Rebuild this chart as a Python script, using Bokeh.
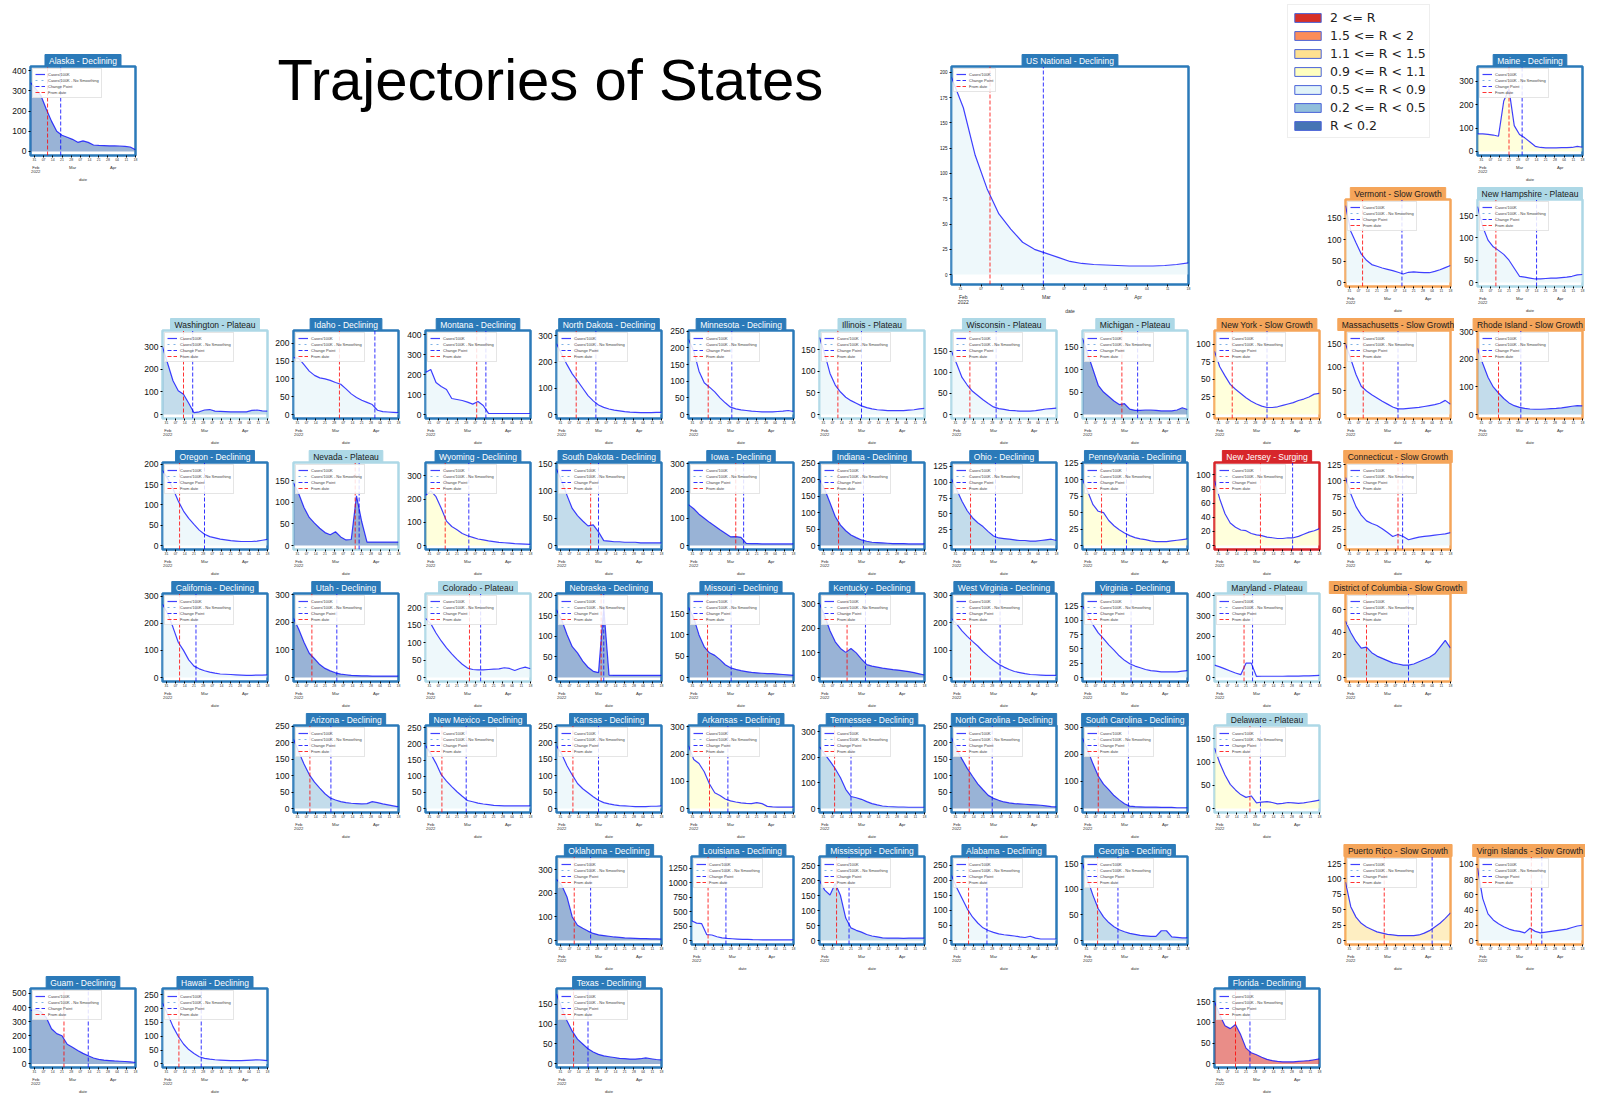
import pandas as pd
from bokeh.embed import file_html
from bokeh.layouts import column, row
from bokeh.models import (FixedTicker, Label, Legend, LegendItem, LinearAxis, Range1d,
                          SingleIntervalTicker, Spacer)
from bokeh.plotting import figure
from bokeh.resources import INLINE

# ------------------------------------------------------------------ data
START = pd.Timestamp("2022-01-28")
END = pd.Timestamp("2022-04-18")
SAMPLE_DATES = pd.date_range(START, END, freq="4D")          # 21 sample dates
TICK_DATES = pd.date_range("2022-01-31", END, freq="7D")     # weekly ticks
MONTH_DATES = pd.to_datetime(["2022-02-01", "2022-03-01", "2022-04-01"])
MONTH_LABELS = ["Feb\n2022", "Mar", "Apr"]

R_LABELS = ["2 <= R", "1.5 <= R < 2", "1.1 <= R < 1.5", "0.9 <= R < 1.1",
            "0.5 <= R < 0.9", "0.2 <= R < 0.5", "R < 0.2"]
R_COLORS = ["#d73027", "#fc8d59", "#fee090", "#ffffbf", "#e0f3f8", "#91bfdb", "#4575b4"]

# cases per 100K (smoothed), read at the sample dates
us_national = [195, 165, 118, 85, 60, 45, 32, 25, 21, 17, 13, 11, 10, 9.5, 9, 8.5, 8.5, 8.5, 9, 10, 11.5]
alaska = [340, 310, 275, 210, 150, 100, 80, 70, 60, 45, 52, 45, 32, 30, 29, 28, 28, 27, 25, 22, 8]
maine = [75, 75, 73, 70, 65, 215, 265, 110, 72, 58, 40, 22, 17, 15, 15, 15, 16, 16, 17, 22, 18]
vermont = [180, 120, 93, 67, 52, 42, 38, 34, 31, 28, 24, 20, 24, 25, 24, 23, 23, 26, 30, 35, 40]
new_hampshire = [170, 125, 95, 80, 72, 63, 50, 32, 14, 12, 10, 8, 8, 9, 10, 10, 11, 12, 14, 17, 18]
washington = [300, 225, 150, 105, 90, 50, 8, 12, 20, 22, 15, 14, 13, 12, 12, 12, 12, 18, 20, 16, 15]
idaho = [160, 158, 140, 122, 110, 103, 100, 96, 90, 85, 72, 58, 48, 40, 34, 28, 12, 8, 7, 6, 5]
montana = [210, 225, 160, 140, 125, 80, 75, 70, 62, 52, 65, 45, 6, 5, 5, 5, 5, 5, 5, 5, 5]
north_dakota = [270, 230, 190, 155, 128, 100, 72, 52, 36, 27, 21, 17, 14, 11, 9, 8, 7, 7, 7, 8, 8]
minnesota = [225, 190, 130, 95, 82, 68, 50, 35, 22, 17, 14, 12, 10, 9, 8, 8, 8, 9, 10, 12, 9]
illinois = [178, 140, 95, 68, 52, 40, 32, 26, 20, 16, 13, 11, 10, 9, 9, 9, 9, 10, 11, 13, 14]
wisconsin = [150, 120, 88, 70, 55, 45, 35, 26, 18, 14, 12, 10, 9, 8, 8, 8, 9, 11, 13, 14, 15]
michigan = [170, 135, 100, 65, 50, 40, 30, 22, 24, 12, 9, 9, 10, 10, 9, 8, 8, 8, 10, 15, 11]
new_york = [90, 68, 55, 43, 36, 30, 24, 19, 15, 12, 10, 10, 11, 13, 15, 17, 20, 22, 25, 29, 30]
massachusetts = [150, 118, 85, 60, 50, 42, 35, 28, 22, 16, 12, 12, 13, 14, 15, 17, 19, 21, 24, 30, 22]
rhode_island = [240, 185, 135, 100, 78, 58, 42, 32, 26, 22, 20, 19, 19, 20, 21, 22, 24, 27, 30, 32, 31]
oregon = [185, 165, 140, 110, 85, 67, 52, 38, 28, 22, 19, 16, 14, 12, 11, 10, 10, 10, 11, 13, 15]
nevada = [145, 120, 88, 65, 52, 40, 30, 25, 32, 20, 13, 14, 115, 55, 8, 8, 8, 8, 8, 8, 8]
wyoming = [215, 235, 210, 160, 105, 82, 68, 52, 42, 35, 28, 24, 20, 17, 14, 12, 10, 8, 7, 6, 5]
south_dakota = [140, 118, 92, 68, 55, 45, 36, 38, 25, 9, 8, 7, 7, 6, 6, 6, 5, 5, 5, 5, 5]
iowa = [150, 135, 115, 100, 85, 72, 58, 45, 32, 33, 30, 8, 7, 7, 6, 6, 6, 6, 6, 6, 6]
indiana = [200, 170, 130, 88, 62, 45, 32, 24, 17, 13, 10, 9, 8, 7, 6, 6, 6, 5, 5, 5, 5]
ohio = [105, 88, 70, 55, 44, 36, 30, 22, 15, 12, 11, 10, 9, 8, 8, 7, 7, 8, 9, 10, 8]
pennsylvania = [100, 82, 62, 52, 50, 38, 30, 24, 19, 15, 12, 10, 9, 7, 6, 6, 6, 7, 8, 9, 10]
new_jersey = [92, 66, 45, 32, 26, 22, 21, 17, 15, 14, 12, 11, 10, 10, 11, 11, 13, 16, 19, 21, 24]
connecticut = [105, 80, 60, 47, 38, 34, 31, 26, 20, 14, 17, 14, 9, 11, 13, 14, 15, 16, 17, 18, 20]
california = [270, 235, 185, 130, 100, 65, 42, 32, 25, 20, 16, 13, 12, 11, 10, 9, 8, 8, 9, 9, 10]
utah = [215, 175, 128, 88, 68, 47, 33, 24, 17, 12, 10, 8, 7, 6, 6, 5, 5, 5, 5, 5, 5]
colorado = [170, 155, 128, 105, 85, 68, 52, 38, 27, 23, 22, 22, 23, 24, 25, 28, 26, 20, 26, 30, 25]
nebraska = [165, 140, 105, 75, 60, 40, 25, 15, 12, 170, 6, 5, 5, 5, 5, 5, 5, 5, 5, 5, 5]
missouri = [165, 140, 100, 72, 58, 52, 42, 30, 23, 19, 16, 14, 12, 11, 10, 9, 9, 8, 7, 6, 5]
kentucky = [300, 250, 190, 145, 118, 102, 118, 100, 75, 52, 46, 42, 38, 35, 32, 30, 27, 24, 20, 15, 10]
west_virginia = [215, 195, 170, 150, 132, 115, 95, 78, 62, 48, 38, 29, 22, 18, 14, 11, 10, 9, 8, 8, 8]
virginia = [125, 110, 92, 78, 68, 57, 48, 38, 30, 24, 20, 17, 14, 12, 11, 10, 10, 10, 10, 11, 12]
maryland = [60, 52, 42, 32, 22, 14, 70, 70, 5, 6, 6, 6, 6, 6, 7, 7, 7, 8, 8, 9, 10]
district_of_columbia = [50, 40, 32, 26, 27, 22, 19, 17, 15, 13, 12, 11, 11, 12, 14, 16, 18, 21, 27, 33, 26]
arizona = [210, 172, 135, 103, 80, 62, 45, 32, 26, 21, 18, 16, 15, 14, 15, 21, 18, 14, 11, 8, 5]
new_mexico = [195, 170, 140, 105, 85, 68, 52, 38, 25, 21, 17, 14, 12, 10, 9, 8, 8, 8, 8, 8, 8]
kansas = [190, 165, 130, 102, 76, 60, 48, 36, 25, 18, 14, 11, 9, 8, 7, 6, 6, 6, 7, 7, 8]
arkansas = [230, 180, 165, 135, 90, 58, 48, 35, 28, 24, 21, 19, 18, 22, 18, 8, 6, 5, 5, 5, 5]
tennessee = [240, 212, 185, 155, 120, 75, 47, 42, 36, 27, 19, 14, 10, 8, 7, 6, 6, 5, 5, 5, 5]
north_carolina = [215, 180, 150, 122, 98, 75, 57, 40, 31, 25, 20, 17, 15, 14, 13, 12, 11, 10, 8, 6, 5]
south_carolina = [260, 215, 165, 120, 90, 70, 48, 32, 18, 9, 7, 6, 5, 5, 5, 4, 4, 4, 3, 3, 3]
delaware = [130, 98, 72, 52, 40, 30, 24, 27, 12, 14, 15, 13, 10, 11, 13, 12, 11, 12, 14, 16, 18]
oklahoma = [260, 235, 185, 100, 65, 52, 40, 30, 24, 21, 18, 15, 13, 11, 10, 9, 8, 8, 7, 7, 6]
louisiana = [340, 300, 290, 100, 95, 65, 45, 35, 30, 25, 20, 18, 15, 13, 12, 11, 10, 10, 10, 10, 10]
mississippi = [200, 168, 152, 190, 150, 75, 42, 34, 28, 20, 15, 12, 9, 8, 8, 8, 7, 8, 8, 8, 8]
alabama = [215, 175, 140, 105, 78, 58, 42, 33, 27, 22, 19, 17, 15, 12, 10, 14, 8, 5, 5, 5, 5]
georgia = [150, 118, 88, 62, 46, 35, 27, 21, 17, 14, 12, 10, 9, 8, 8, 19, 19, 7, 6, 5, 5]
puerto_rico = [95, 55, 38, 28, 22, 18, 14, 12, 10, 9, 8, 8, 8, 8, 9, 12, 16, 22, 28, 36, 45]
virgin_islands = [95, 55, 35, 27, 22, 18, 15, 13, 12, 10, 16, 12, 10, 11, 12, 13, 14, 15, 17, 19, 20]
guam = [380, 385, 370, 330, 250, 215, 200, 140, 118, 95, 75, 58, 42, 32, 27, 24, 21, 19, 17, 14, 10]
hawaii = [220, 180, 135, 100, 72, 52, 38, 26, 20, 17, 15, 14, 13, 12, 12, 12, 13, 14, 15, 14, 12]
texas = [175, 140, 108, 82, 62, 50, 38, 30, 24, 20, 18, 16, 14, 13, 12, 12, 13, 15, 13, 11, 10]
florida = [150, 118, 92, 85, 95, 70, 38, 27, 22, 16, 11, 8, 6, 5, 5, 5, 6, 7, 8, 10, 12]

SERIES = {
    "US National": us_national, "Alaska": alaska, "Maine": maine, "Vermont": vermont,
    "New Hampshire": new_hampshire, "Washington": washington, "Idaho": idaho,
    "Montana": montana, "North Dakota": north_dakota, "Minnesota": minnesota,
    "Illinois": illinois, "Wisconsin": wisconsin, "Michigan": michigan,
    "New York": new_york, "Massachusetts": massachusetts, "Rhode Island": rhode_island,
    "Oregon": oregon, "Nevada": nevada, "Wyoming": wyoming, "South Dakota": south_dakota,
    "Iowa": iowa, "Indiana": indiana, "Ohio": ohio, "Pennsylvania": pennsylvania,
    "New Jersey": new_jersey, "Connecticut": connecticut, "California": california,
    "Utah": utah, "Colorado": colorado, "Nebraska": nebraska, "Missouri": missouri,
    "Kentucky": kentucky, "West Virginia": west_virginia, "Virginia": virginia,
    "Maryland": maryland, "District of Columbia": district_of_columbia,
    "Arizona": arizona, "New Mexico": new_mexico, "Kansas": kansas, "Arkansas": arkansas,
    "Tennessee": tennessee, "North Carolina": north_carolina,
    "South Carolina": south_carolina, "Delaware": delaware, "Oklahoma": oklahoma,
    "Louisiana": louisiana, "Mississippi": mississippi, "Alabama": alabama,
    "Georgia": georgia, "Puerto Rico": puerto_rico, "Virgin Islands": virgin_islands,
    "Guam": guam, "Hawaii": hawaii, "Texas": texas, "Florida": florida,
}

PLATEAU = ["New Hampshire", "Washington", "Illinois", "Wisconsin", "Michigan", "Nevada",
           "Colorado", "Maryland", "Delaware"]
SLOW_GROWTH = ["Vermont", "New York", "Massachusetts", "Rhode Island", "Connecticut",
               "District of Columbia", "Puerto Rico", "Virgin Islands"]
SURGING = ["New Jersey"]
STATUS = {n: ("Plateau" if n in PLATEAU else "Slow Growth" if n in SLOW_GROWTH
              else "Surging" if n in SURGING else "Declining") for n in SERIES}

# "From date" and change point, in days after 2022-01-28
FROM_DAY = {
    "US National": 13, "Alaska": 13, "Maine": 24, "Vermont": 13, "New Hampshire": 14,
    "Washington": 16, "Idaho": 35, "Montana": 39, "North Dakota": 15, "Minnesota": 15,
    "Illinois": 14, "Wisconsin": 14, "Michigan": 30, "New York": 13.5, "Massachusetts": 13.5,
    "Rhode Island": 16, "Oregon": 13, "Nevada": 47, "Wyoming": 15, "South Dakota": 26,
    "Iowa": 36, "Indiana": 14.5, "Ohio": 14.5, "Pennsylvania": 14.5, "New Jersey": 35,
    "Connecticut": 40, "California": 13, "Utah": 14, "Colorado": 33.5, "Nebraska": 34,
    "Missouri": 14.5, "Kentucky": 21, "West Virginia": 14.5, "Virginia": 14.5,
    "Maryland": 22.5, "District of Columbia": 16, "Arizona": 12.5, "New Mexico": 12.5,
    "Kansas": 12.5, "Arkansas": 16, "Tennessee": 11.5, "North Carolina": 13.5,
    "South Carolina": 12, "Delaware": 27, "Oklahoma": 13.5, "Louisiana": 13,
    "Mississippi": 13, "Alabama": 13, "Georgia": 11.5, "Puerto Rico": 29.5,
    "Virgin Islands": 41, "Guam": 25.5, "Hawaii": 12.5, "Texas": 13, "Florida": 16,
}
CHANGE_DAY = {
    "US National": 31, "Alaska": 23, "Maine": 34, "Vermont": 43, "New Hampshire": 45,
    "Washington": 23, "Idaho": 62, "Montana": 46, "North Dakota": 30, "Minnesota": 33,
    "Illinois": 32, "Wisconsin": 34, "Michigan": 42, "New York": 40, "Massachusetts": 40,
    "Rhode Island": 33, "Oregon": 32, "Nevada": 50, "Wyoming": 33, "South Dakota": 32,
    "Iowa": 42, "Indiana": 33.5, "Ohio": 33.5, "Pennsylvania": 33.5, "New Jersey": 59.5,
    "Connecticut": 43.5, "California": 25.5, "Utah": 33, "Colorado": 42, "Nebraska": 36,
    "Missouri": 32.5, "Kentucky": 35, "West Virginia": 37, "Virginia": 37,
    "Maryland": 29, "District of Columbia": 48, "Arizona": 28.5, "New Mexico": 31,
    "Kansas": 32, "Arkansas": 30, "Tennessee": 24, "North Carolina": 31,
    "South Carolina": 35, "Delaware": 35, "Oklahoma": 26, "Louisiana": 27,
    "Mississippi": 22.5, "Alabama": 27, "Georgia": 27, "Puerto Rico": 66,
    "Virgin Islands": 49, "Guam": 44, "Hawaii": 29.5, "Texas": 24, "Florida": 27,
}
# highest unsmoothed value (sets the y extent) and y tick interval
PEAK = {
    "US National": 196, "Alaska": 400, "Maine": 345, "Vermont": 185, "New Hampshire": 177,
    "Washington": 355, "Idaho": 225, "Montana": 400, "North Dakota": 305, "Minnesota": 240,
    "Illinois": 185, "Wisconsin": 190, "Michigan": 178, "New York": 114, "Massachusetts": 170,
    "Rhode Island": 290, "Oregon": 195, "Nevada": 183, "Wyoming": 340, "South Dakota": 145,
    "Iowa": 290, "Indiana": 240, "Ohio": 125, "Pennsylvania": 120, "New Jersey": 112,
    "Connecticut": 122, "California": 295, "Utah": 290, "Colorado": 230, "Nebraska": 195,
    "Missouri": 188, "Kentucky": 325, "West Virginia": 292, "Virginia": 140,
    "Maryland": 390, "District of Columbia": 71, "Arizona": 240, "New Mexico": 245,
    "Kansas": 240, "Arkansas": 290, "Tennessee": 308, "North Carolina": 240,
    "South Carolina": 292, "Delaware": 170, "Oklahoma": 340, "Louisiana": 1380,
    "Mississippi": 267, "Alabama": 265, "Georgia": 156, "Puerto Rico": 130,
    "Virgin Islands": 105, "Guam": 510, "Hawaii": 260, "Texas": 180, "Florida": 173,
}
Y_STEP = {
    "US National": 25, "Alaska": 100, "Maine": 100, "Vermont": 50, "New Hampshire": 50,
    "Washington": 100, "Idaho": 50, "Montana": 100, "North Dakota": 100, "Minnesota": 50,
    "Illinois": 50, "Wisconsin": 50, "Michigan": 50, "New York": 25, "Massachusetts": 50,
    "Rhode Island": 100, "Oregon": 50, "Nevada": 50, "Wyoming": 100, "South Dakota": 50,
    "Iowa": 100, "Indiana": 50, "Ohio": 25, "Pennsylvania": 25, "New Jersey": 20,
    "Connecticut": 25, "California": 100, "Utah": 100, "Colorado": 50, "Nebraska": 50,
    "Missouri": 50, "Kentucky": 100, "West Virginia": 100, "Virginia": 25,
    "Maryland": 100, "District of Columbia": 20, "Arizona": 50, "New Mexico": 50,
    "Kansas": 50, "Arkansas": 100, "Tennessee": 100, "North Carolina": 50,
    "South Carolina": 100, "Delaware": 50, "Oklahoma": 100, "Louisiana": 250,
    "Mississippi": 50, "Alabama": 50, "Georgia": 50, "Puerto Rico": 25,
    "Virgin Islands": 20, "Guam": 100, "Hawaii": 50, "Texas": 50, "Florida": 50,
}
# R class of the shaded area: list of (from day, index into R_LABELS)
R_BIN = {n: [(0, 4)] for n in SERIES}
for n in ["Alaska", "Michigan", "Nevada", "Iowa", "Indiana", "Utah", "Nebraska", "Missouri",
          "Kentucky", "North Carolina", "South Carolina", "Oklahoma", "Guam", "Texas"]:
    R_BIN[n] = [(0, 6)]
for n in ["Washington", "Rhode Island", "South Dakota", "Ohio", "District of Columbia",
          "Arizona", "Tennessee", "Mississippi", "Georgia"]:
    R_BIN[n] = [(0, 5)]
for n in ["Maine", "New York", "Pennsylvania", "New Jersey", "Arkansas", "Delaware"]:
    R_BIN[n] = [(0, 3)]
R_BIN["Wyoming"] = [(0, 3), (48, 4)]
R_BIN["Puerto Rico"] = [(0, 2)]
R_BIN["Florida"] = [(0, 0)]

# ---------------------------------------------------------------- layout
GRID_ROWS = {
    2: ["Washington", "Idaho", "Montana", "North Dakota", "Minnesota", "Illinois",
        "Wisconsin", "Michigan", "New York", "Massachusetts", "Rhode Island"],
    3: ["Oregon", "Nevada", "Wyoming", "South Dakota", "Iowa", "Indiana", "Ohio",
        "Pennsylvania", "New Jersey", "Connecticut"],
    4: ["California", "Utah", "Colorado", "Nebraska", "Missouri", "Kentucky",
        "West Virginia", "Virginia", "Maryland", "District of Columbia"],
    5: ["Arizona", "New Mexico", "Kansas", "Arkansas", "Tennessee", "North Carolina",
        "South Carolina", "Delaware"],
    6: ["Oklahoma", "Louisiana", "Mississippi", "Alabama", "Georgia", "Puerto Rico",
        "Virgin Islands"],
    7: ["Guam", "Hawaii", "Texas", "Florida"],
}
GRID_COLS = {
    2: [1, 2, 3, 4, 5, 6, 7, 8, 9, 10, 11],
    3: [1, 2, 3, 4, 5, 6, 7, 8, 9, 10],
    4: [1, 2, 3, 4, 5, 6, 7, 8, 9, 10],
    5: [2, 3, 4, 5, 6, 7, 8, 9],
    6: [4, 5, 6, 7, 8, 10, 11],
    7: [0, 1, 4, 9],
}
PAD_LEFT = 7
COL_X = [int(131.5 * k + 0.5) for k in range(13)]
COL_W = [COL_X[k + 1] - COL_X[k] for k in range(12)]
ROW_H = [185, 131, 132, 131, 132, 131, 132, 123]
ROW_TOP = [66, 13, 13, 13, 13, 13, 13, 13]
LEFT, FRAME_W, FRAME_H = 23, 105, 92

STATUS_BG = {"Declining": "#2b7ab9", "Plateau": "#add8e6",
             "Slow Growth": "#f5a55a", "Surging": "#d7262b"}
STATUS_FG = {"Declining": "white", "Plateau": "#1a1a1a",
             "Slow Growth": "#1a1a1a", "Surging": "white"}
FONT = "Liberation Sans"
NAN = float("nan")


def day(ts):
    return (ts - START).days


SAMPLE_X = [day(d) for d in SAMPLE_DATES]
TICK_X = [day(d) for d in TICK_DATES]
TICK_TEXT = [d.strftime("%d") for d in TICK_DATES]
MONTH_X = [day(d) for d in MONTH_DATES]
X_END = day(END)


def make_panel(name, width, height, top, frame_w, frame_h, ytick_fs="8.5px",
               month_fs="4.2px"):
    status = STATUS[name]
    edge = STATUS_BG[status]
    vals = SERIES[name]
    peak = PEAK[name]
    y_lo, y_hi = -0.05 * peak, 1.05 * peak
    p = figure(width=width, height=height, output_backend="svg", toolbar_location=None,
               x_range=Range1d(0, X_END), y_range=Range1d(y_lo, y_hi),
               min_border_left=LEFT, min_border_right=width - LEFT - frame_w,
               min_border_top=top, min_border_bottom=height - top - frame_h,
               title=f"{name} - {status}", background_fill_color="white",
               border_fill_color="white", outline_line_color=edge,
               outline_line_width=2.5)
    p.xgrid.visible = False
    p.ygrid.visible = False

    t = p.title
    t.align = "center"
    t.text_font = FONT
    t.text_font_size = "8.5px"
    t.text_font_style = "normal"
    t.text_color = STATUS_FG[status]
    t.background_fill_color = edge
    t.border_line_color = edge
    t.standoff = 0
    t.offset = 0
    try:
        t.padding = dict(left=4, right=4, top=1, bottom=1)
    except Exception:
        pass

    segs = R_BIN[name]
    for i, (d0, b) in enumerate(segs):
        d1 = segs[i + 1][0] if i + 1 < len(segs) else X_END
        idx = [k for k, x in enumerate(SAMPLE_X) if d0 <= x <= d1]
        p.varea(x=[SAMPLE_X[k] for k in idx], y1=0, y2=[vals[k] for k in idx],
                fill_color=R_COLORS[b], fill_alpha=0.55)

    main = p.line(SAMPLE_X, vals, line_color="blue", line_width=1.2, line_alpha=0.75)
    raw = p.line(x=[NAN], y=[NAN], line_color="#7fb2e5", line_width=1, line_dash="dotted")
    cp = p.segment(x0=[CHANGE_DAY[name]], x1=[CHANGE_DAY[name]], y0=[y_lo], y1=[y_hi],
                   line_color="blue", line_dash="4 2", line_width=1, line_alpha=0.8)
    fd = p.segment(x0=[FROM_DAY[name]], x1=[FROM_DAY[name]], y0=[y_lo], y1=[y_hi],
                   line_color="red", line_dash="4 2", line_width=1, line_alpha=0.8)

    xa = p.xaxis[0]
    xa.ticker = FixedTicker(ticks=TICK_X)
    xa.major_label_overrides = dict(zip(TICK_X, TICK_TEXT))
    xa.major_label_text_font = FONT
    xa.major_label_text_font_size = "3.5px"
    xa.major_label_text_color = "#333333"
    xa.major_label_standoff = 0
    xa.major_tick_out = 2
    xa.major_tick_in = 0
    xa.minor_tick_line_color = None
    xa.minor_tick_out = 0
    xa.minor_tick_in = 0
    xa.axis_line_color = None

    ya = p.yaxis[0]
    ya.ticker = SingleIntervalTicker(interval=Y_STEP[name], num_minor_ticks=0)
    ya.major_label_text_font = FONT
    ya.major_label_text_font_size = ytick_fs
    ya.major_label_text_color = "#111111"
    ya.major_label_standoff = 2
    ya.major_tick_out = 2
    ya.major_tick_in = 0
    ya.minor_tick_line_color = None
    ya.axis_line_color = None

    # month names and the "date" caption on a second, tick-less axis
    ma = LinearAxis(ticker=FixedTicker(ticks=MONTH_X),
                    major_label_overrides=dict(zip(MONTH_X, MONTH_LABELS)),
                    axis_line_color=None, major_tick_line_color=None,
                    major_tick_out=0, major_tick_in=0, minor_tick_line_color=None,
                    minor_tick_out=0, minor_tick_in=0, major_label_standoff=1,
                    major_label_text_font=FONT, major_label_text_font_size=month_fs,
                    major_label_text_line_height=0.9, major_label_text_color="#333333",
                    axis_label="date", axis_label_standoff=0, axis_label_text_font=FONT,
                    axis_label_text_font_size=month_fs, axis_label_text_font_style="normal",
                    axis_label_text_color="#333333")
    p.add_layout(ma, "below")

    items = [LegendItem(label="Cases/100K", renderers=[main])]
    if name != "US National":
        items.append(LegendItem(label="Cases/100K - No Smoothing", renderers=[raw]))
    items += [LegendItem(label="Change Point", renderers=[cp]),
              LegendItem(label="From date", renderers=[fd])]
    lg = Legend(items=items, location="top_left", label_text_font=FONT,
                label_text_font_size="4px", label_height=6, glyph_height=6,
                glyph_width=10, label_standoff=3, spacing=0, padding=2, margin=2,
                border_line_color="#cccccc", border_line_width=0.5,
                background_fill_alpha=0.85)
    p.add_layout(lg)
    return p


def cell(name, r, c, span=1):
    return make_panel(name, sum(COL_W[c:c + span]), ROW_H[r], ROW_TOP[r],
                      FRAME_W, FRAME_H)


def blank(w, h):
    return Spacer(width=w, height=h)


H01 = ROW_H[0] + ROW_H[1]

# main title
tw, th = sum(COL_W[2:7]), ROW_H[0]
tp = figure(width=tw, height=th, output_backend="svg", toolbar_location=None,
            x_range=Range1d(0, tw), y_range=Range1d(0, th), x_axis_type=None,
            y_axis_type=None, outline_line_color=None, min_border_left=0,
            min_border_right=0, min_border_top=0, min_border_bottom=0,
            border_fill_color="white", background_fill_color="white")
tp.add_layout(Label(x=7, y=th - 79, text="Trajectories of States", text_font=FONT,
                    text_font_size="58px", text_color="black",
                    text_baseline="alphabetic"))

# R legend (left/top borders place the legend box)
lw = COL_W[9] + COL_W[10]
lp = figure(width=lw, height=ROW_H[0], output_backend="svg", toolbar_location=None,
            x_range=Range1d(0, 1), y_range=Range1d(0, 1), x_axis_type=None,
            y_axis_type=None, outline_line_color=None, min_border_left=96,
            min_border_right=0, min_border_top=4, min_border_bottom=0,
            border_fill_color="white", background_fill_color="white")
rrs = [lp.quad(left=[NAN], right=[NAN], top=[NAN], bottom=[NAN], fill_color=col,
               line_color="#4a63d8", line_width=1) for col in R_COLORS]
rleg = Legend(items=[LegendItem(label=l, renderers=[rr]) for l, rr in zip(R_LABELS, rrs)],
              location="top_left", label_text_font="DejaVu Sans", label_text_font_size="12.5px",
              label_text_color="#222222", label_height=18, glyph_height=11, glyph_width=33,
              label_standoff=6, spacing=0, padding=3, margin=0,
              border_line_color="#dddddd", border_line_width=1)
lp.add_layout(rleg)

us = make_panel("US National", COL_W[7] + COL_W[8], H01, ROW_TOP[0], 237, 223,
                ytick_fs="4.5px", month_fs="5px")

top_block = row(
    blank(PAD_LEFT, H01),
    column(cell("Alaska", 0, 0), blank(COL_W[0], ROW_H[1])),
    blank(COL_W[1], H01),
    column(tp, blank(tw, ROW_H[1])),
    us,
    column(lp, row(blank(COL_W[9], ROW_H[1]), cell("Vermont", 1, 10))),
    column(cell("Maine", 0, 11), cell("New Hampshire", 1, 11)),
)

rows = [top_block]
for r in range(2, 8):
    items = [blank(PAD_LEFT, ROW_H[r])]
    placed = dict(zip(GRID_COLS[r], GRID_ROWS[r]))
    c = 0
    while c < 12:
        if c in placed:
            span = 2 if placed[c] == "District of Columbia" else 1
            items.append(cell(placed[c], r, c, span))
            c += span
        else:
            items.append(blank(COL_W[c], ROW_H[r]))
            c += 1
    rows.append(row(*items))

layout = column(*rows)
html = file_html(layout, INLINE, title="Trajectories of States")
open("out.html", "w").write(html)
